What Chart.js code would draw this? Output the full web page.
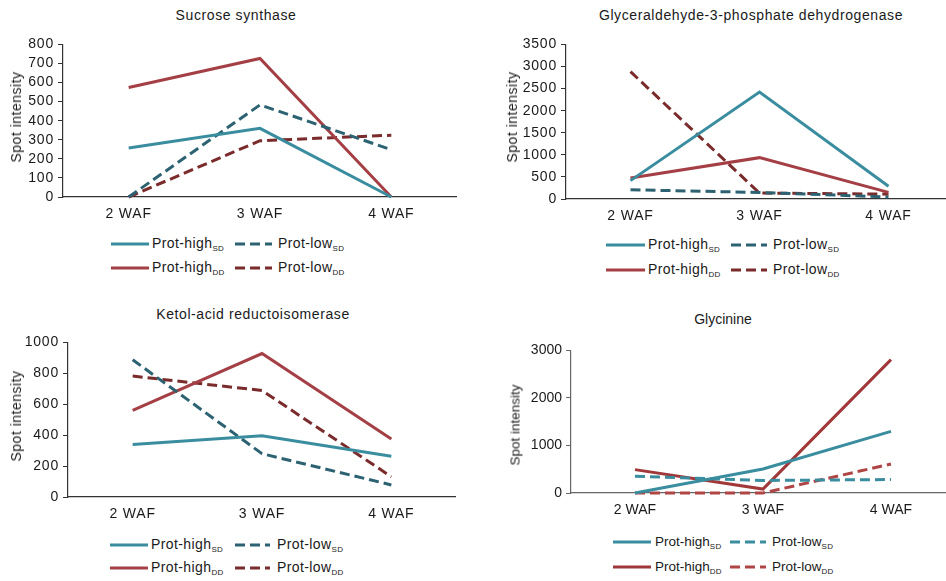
<!DOCTYPE html>
<html><head><meta charset="utf-8">
<script src="https://cdn.jsdelivr.net/npm/chart.js@4"></script>
<style>
html,body{margin:0;padding:0;width:946px;height:581px;overflow:hidden;background:#fff;font-family:"Liberation Sans",Arial,sans-serif;color:#1a1a1a}
canvas{position:absolute}
.t{position:absolute;white-space:nowrap;transform:translate(-50%,-50%);}
.yt{position:absolute;white-space:nowrap;transform:translate(-50%,-50%) rotate(-90deg);}
.lg{position:absolute;white-space:nowrap;transform:translateY(-50%);}
.lg sub{font-size:8px;vertical-align:-3px;letter-spacing:0.3px}
svg{position:absolute;overflow:visible}
</style></head><body>
<script>
const categories = ['2 WAF', '3 WAF', '4 WAF'];
const seriesNames = ['Prot-high', 'Prot-low', 'Prot-high', 'Prot-low'];
const seriesSubs = ['SD', 'SD', 'DD', 'DD'];

const sucroseHighSD = [257, 360, 0];
const sucroseLowSD  = [0, 483, 248];
const sucroseHighDD = [574, 726, 0];
const sucroseLowDD  = [0, 295, 324];

const gapdhHighSD = [416, 2422, 290];
const gapdhLowSD  = [208, 149, 45];
const gapdhHighDD = [475, 936, 149];
const gapdhLowDD  = [2883, 134, 110];

const ketolHighSD = [339, 396, 263];
const ketolLowSD  = [888, 280, 78];
const ketolHighDD = [561, 928, 375];
const ketolLowDD  = [782, 689, 131];

const glyHighSD = [0, 506, 1296];
const glyLowSD  = [353, 263, 284];
const glyHighDD = [492, 83, 2807];
const glyLowDD  = [0, 0, 610];

const sucroseTicks = [0, 100, 200, 300, 400, 500, 600, 700, 800];
const gapdhTicks = [0, 500, 1000, 1500, 2000, 2500, 3000, 3500];
const ketolTicks = [0, 200, 400, 600, 800, 1000];
const glyTicks = [0, 1000, 2000, 3000];

const titles = ['Sucrose synthase', 'Glyceraldehyde-3-phosphate dehydrogenase', 'Ketol-acid reductoisomerase', 'Glycinine'];
const yTitle = 'Spot intensity';

const colA = ['#3A8D9F', '#2C6272', '#A43F45', '#7A2B2B'];
const colB = ['#3A8D9F', '#3A8D9F', '#A0383A', '#B04545'];
const dashes = [[], [10, 5], [], [10, 5]];

const panels = [
  {data:[sucroseHighSD,sucroseLowSD,sucroseHighDD,sucroseLowDD], ticks:sucroseTicks, cols:colA,
   cv:{l:0,t:32,w:457,h:195,yw:63,ch:155}, title:{x:236,y:15,fs:14,ls:0.6}, yt:{x:16,y:117,fs:14,ls:0.5},
   lg:{rows:[244,268],sw1:[111,149],t1:152,sw2:[235,272],t2:278,fs:14,ls:0.4}, ls:'0.8px', tf:14, xf:14, axis:'#333'},
  {data:[gapdhHighSD,gapdhLowSD,gapdhHighDD,gapdhLowDD], ticks:gapdhTicks, cols:colA,
   cv:{l:500,t:32,w:453,h:197,yw:66,ch:157}, title:{x:751,y:15,fs:14,ls:0.6}, yt:{x:512,y:117,fs:14,ls:0.5},
   lg:{rows:[245,270],sw1:[606,645],t1:648,sw2:[731,767],t2:773,fs:14,ls:0.4}, ls:'0.8px', tf:14, xf:14, axis:'#333'},
  {data:[ketolHighSD,ketolLowSD,ketolHighDD,ketolLowDD], ticks:ketolTicks, cols:colA,
   cv:{l:0,t:330,w:456,h:197,yw:68,ch:157}, title:{x:253,y:314,fs:14,ls:0.6}, yt:{x:16,y:416,fs:14,ls:0.5},
   lg:{rows:[545,568],sw1:[110,148],t1:151,sw2:[235,270],t2:277,fs:14,ls:0.4}, ls:'0.8px', tf:14, xf:14, axis:'#333'},
  {data:[glyHighSD,glyLowSD,glyHighDD,glyLowDD], ticks:glyTicks, cols:colB,
   cv:{l:500,t:338,w:455,h:185,yw:71,ch:145}, title:{x:723,y:319,fs:14,ls:0}, yt:{x:515,y:425,fs:13.5,ls:0},
   lg:{rows:[542,567],sw1:[613,651],t1:655,sw2:[730,766],t2:772,fs:13.5,ls:0}, ls:'0px', tf:14, xf:14, axis:'#666'}
];

function addDiv(cls, x, y, html, fs, ls) {
  const d = document.createElement('div');
  d.className = cls;
  d.style.left = x + 'px'; d.style.top = y + 'px';
  d.style.fontSize = fs + 'px'; d.style.letterSpacing = ls + 'px';
  d.innerHTML = html;
  document.body.appendChild(d);
  return d;
}
function addSwatch(x1, x2, y, color, dash) {
  const ns = 'http://www.w3.org/2000/svg';
  const s = document.createElementNS(ns, 'svg');
  s.setAttribute('width', x2 - x1); s.setAttribute('height', 4);
  s.style.left = x1 + 'px'; s.style.top = (y - 2) + 'px';
  const l = document.createElementNS(ns, 'line');
  l.setAttribute('x1', 0); l.setAttribute('x2', x2 - x1);
  l.setAttribute('y1', 2); l.setAttribute('y2', 2);
  l.setAttribute('stroke', color); l.setAttribute('stroke-width', 3);
  if (dash.length) l.setAttribute('stroke-dasharray', dash.join(','));
  s.appendChild(l);
  document.body.appendChild(s);
}

panels.forEach((p, pi) => {
  const c = document.createElement('canvas');
  c.width = p.cv.w; c.height = p.cv.h;
  c.style.left = p.cv.l + 'px'; c.style.top = p.cv.t + 'px';
  c.style.width = p.cv.w + 'px'; c.style.height = p.cv.h + 'px';
  document.body.appendChild(c);
  const tickVals = p.ticks;
  new Chart(c.getContext('2d'), {
    type: 'line',
    data: {
      labels: categories,
      datasets: p.data.map((d, i) => ({
        label: seriesNames[i] + ' ' + seriesSubs[i],
        data: d,
        borderColor: p.cols[i],
        backgroundColor: p.cols[i],
        borderWidth: 3,
        borderDash: dashes[i],
        pointRadius: 0,
        tension: 0,
        fill: false,
        clip: false
      }))
    },
    options: {
      responsive: false,
      animation: false,
      devicePixelRatio: 1,
      layout: {padding: {top: 10, bottom: 0, left: 0, right: 0}},
      plugins: {legend: {display: false}, tooltip: {enabled: false}, title: {display: false}},
      scales: {
        x: {
          type: 'category',
          offset: true,
          grid: {display: true, drawOnChartArea: false, drawTicks: false, offset: true},
          border: {display: true, color: p.axis, width: 1.2},
          ticks: {color: '#1a1a1a', padding: 9, font: {family: 'Liberation Sans', size: p.xf}, maxRotation: 0, autoSkip: false},
          afterFit: s => { s.height = p.cv.h - 10 - p.cv.ch; }
        },
        y: {
          min: tickVals[0], max: tickVals[tickVals.length - 1],
          afterBuildTicks: s => { s.ticks = tickVals.map(v => ({value: v})); },
          grid: {display: true, drawOnChartArea: false, drawTicks: true, tickLength: 5, color: p.axis, lineWidth: 1},
          border: {display: true, color: p.axis, width: 1.2},
          ticks: {color: '#1a1a1a', padding: 4, autoSkip: false, font: {family: 'Liberation Sans', size: p.tf}, callback: v => String(v)},
          afterFit: s => { s.width = p.cv.yw; }
        }
      }
    },
    plugins: [{id: 'ls', beforeDraw: ch => { try { ch.ctx.letterSpacing = p.ls; } catch (e) {} }}]
  });

  addDiv('t', p.title.x, p.title.y, titles[pi], p.title.fs, p.title.ls);
  addDiv('yt', p.yt.x, p.yt.y, yTitle, p.yt.fs, p.yt.ls);
  const lg = p.lg;
  [0, 1].forEach(r => {
    const a = r * 2, b = r * 2 + 1;
    addSwatch(lg.sw1[0], lg.sw1[1], lg.rows[r], p.cols[a], dashes[a]);
    addDiv('lg', lg.t1, lg.rows[r], seriesNames[a] + '<sub>' + seriesSubs[a] + '</sub>', lg.fs, lg.ls);
    addSwatch(lg.sw2[0], lg.sw2[1], lg.rows[r], p.cols[b], dashes[b]);
    addDiv('lg', lg.t2, lg.rows[r], seriesNames[b] + '<sub>' + seriesSubs[b] + '</sub>', lg.fs, lg.ls);
  });
});
</script>
</body></html>
